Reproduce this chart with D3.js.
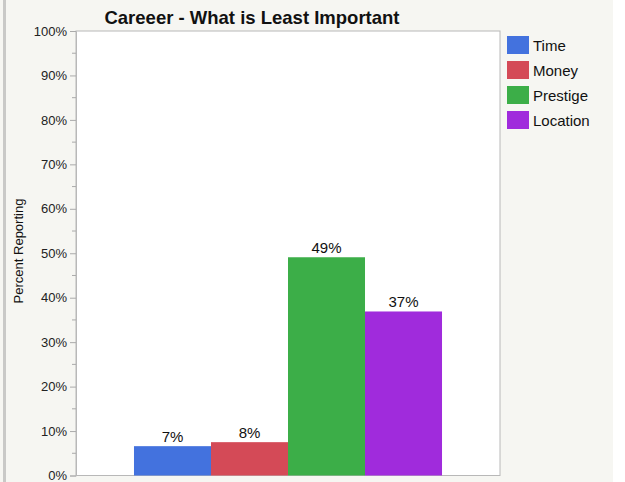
<!DOCTYPE html>
<html><head><meta charset="utf-8">
<script src="https://cdn.jsdelivr.net/npm/d3@7"></script>
<style>
html,body{margin:0;padding:0;background:#fff;}
svg{display:block;font-family:"Liberation Sans",Arial,Helvetica,sans-serif;}
</style></head>
<body>
<script>
const categories = ["Time", "Money", "Prestige", "Location"];
const values = [6.6, 7.5, 49.1, 36.9];
const valueLabels = ["7%", "8%", "49%", "37%"];
const colors = ["#4372de", "#d44a57", "#3cae48", "#a02bdc"];
const yTicks = [0, 10, 20, 30, 40, 50, 60, 70, 80, 90, 100];
const title = "Careeer - What is Least Important";
const yLabel = "Percent Reporting";

(function () {
const W = 625, H = 482;
const svg = d3.select("body").append("svg").attr("width", W).attr("height", H);

svg.append("rect").attr("x", 0).attr("y", 0).attr("width", 613).attr("height", H).attr("fill", "#f6f6f2");
svg.append("rect").attr("x", 3).attr("y", 0).attr("width", 3).attr("height", H).attr("fill", "#c9c9c7");

const mL = 76, mR = 500, mT = 31, mB = 475.5;
const x = d3.scaleBand().domain(categories).range([mL, mR]).paddingInner(0).paddingOuter(0.753);
const y = d3.scaleLinear().domain([0, 100]).range([mB, mT]);

svg.append("rect").attr("x", mL).attr("y", mT).attr("width", mR - mL).attr("height", mB - mT)
  .attr("fill", "#fff").attr("stroke", "#b8b8b8").attr("stroke-width", 1);

const minor = d3.range(5, 100, 10);
svg.append("g").selectAll("line").data(minor).join("line")
  .attr("x1", mL - 4).attr("x2", mL).attr("y1", d => y(d)).attr("y2", d => y(d))
  .attr("stroke", "#aaa");

const yAxis = d3.axisLeft(y).tickValues(yTicks).tickFormat(d => d + "%").tickSize(6).tickPadding(3);
const gy = svg.append("g").attr("transform", `translate(${mL},0)`).call(yAxis);
gy.select(".domain").attr("stroke", "#b8b8b8");
gy.selectAll(".tick line").attr("stroke", "#aaa");
gy.selectAll(".tick text").attr("fill", "#222").style("font-size", "13px").attr("font-family", "Liberation Sans, Arial, sans-serif");

svg.append("g").selectAll("rect").data(categories).join("rect")
  .attr("x", d => x(d)).attr("width", x.bandwidth())
  .attr("y", (d, i) => y(values[i])).attr("height", (d, i) => y(0) - y(values[i]))
  .attr("fill", (d, i) => colors[i]);

svg.append("g").selectAll("text").data(categories).join("text")
  .attr("x", d => x(d) + x.bandwidth() / 2).attr("y", (d, i) => y(values[i]) - 4)
  .attr("text-anchor", "middle").style("font-size", "15px").attr("fill", "#111")
  .text((d, i) => valueLabels[i]);

svg.append("text").attr("x", 252).attr("y", 24).attr("text-anchor", "middle")
  .style("font-size", "18.5px").style("font-weight", "bold").attr("fill", "#111").text(title);

svg.append("text").attr("transform", `translate(23,251) rotate(-90)`)
  .attr("text-anchor", "middle").style("font-size", "13px").attr("fill", "#111").text(yLabel);

const lg = svg.append("g").attr("transform", "translate(507,36)");
const items = lg.selectAll("g").data(categories).join("g").attr("transform", (d, i) => `translate(0,${i * 25})`);
items.append("rect").attr("width", 22).attr("height", 18).attr("fill", (d, i) => colors[i]);
items.append("text").attr("x", 26).attr("y", 14.5).style("font-size", "15px").attr("fill", "#111").text(d => d);
})();
</script>
</body></html>
